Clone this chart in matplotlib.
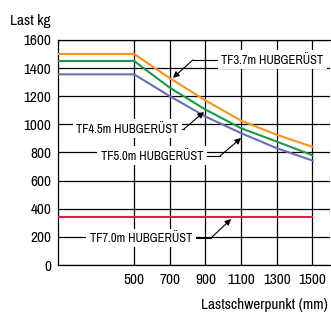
import matplotlib
matplotlib.use("Agg")
import matplotlib.pyplot as plt

x_pts = [75, 500, 700, 900, 1100, 1300, 1500]
tf37 = [1500, 1500, 1328, 1170, 1026, 925, 840]
tf45 = [1450, 1450, 1260, 1105, 972, 877, 780]
tf50 = [1355, 1355, 1200, 1055, 937, 830, 742]
tf70_x = [75, 1500]
tf70 = [340, 340]

yticks = [0, 200, 400, 600, 800, 1000, 1200, 1400, 1600]
xticks = [500, 700, 900, 1100, 1300, 1500]

FONT = ["Archivo Narrow", "DejaVu Sans"]
plt.rcParams['font.family'] = FONT

fig = plt.figure(figsize=(3.31, 3.14), dpi=100)
ax = fig.add_axes([0.176, 0.156, 0.822, 0.717])

ax.plot(x_pts, tf37, color="#f7941d", lw=1.5, zorder=3)
ax.plot(x_pts, tf45, color="#1a9a48", lw=1.5, zorder=3)
ax.plot(x_pts, tf50, color="#6670b8", lw=1.5, zorder=3)
ax.plot(tf70_x, tf70, color="#e0203a", lw=1.5, zorder=3)

ax.set_xlim(75, 1600)
ax.set_ylim(0, 1600)
ax.set_xticks(xticks)
ax.set_yticks(yticks)
ax.tick_params(length=0, labelsize=11, pad=5)
ax.tick_params(axis='x', pad=6)
ax.grid(True, color="black", lw=0.9)
for s in ["right"]:
    ax.spines[s].set_visible(False)
for s in ["top", "left", "bottom"]:
    ax.spines[s].set_linewidth(0.9)

def label(text, tx, ty, corner, tip):
    ax.text(tx, ty, text, fontsize=9, ha="center", va="center", zorder=5,
            bbox=dict(facecolor="white", edgecolor="none", pad=2.5))
    ax.plot([corner[2], corner[0]], [corner[1], corner[1]], color="black", lw=0.8, zorder=4)
    ax.annotate("", xy=tip, xytext=(corner[0], corner[1]), zorder=6,
                arrowprops=dict(arrowstyle="-|>", color="black", lw=0.8,
                                mutation_scale=9, shrinkA=0, shrinkB=0))

label("TF3.7m HUBGERÜST", 1276, 1458, (830, 1458, 1000), (718, 1330))
label("TF4.5m HUBGERÜST", 463, 967, (780, 967, 700), (892, 1088))
label("TF5.0m HUBGERÜST", 600, 775, (982, 775, 850), (1100, 903))
label("TF7.0m HUBGERÜST", 539, 192, (931, 192, 800), (1044, 327))

fig.text(10 / 331, 1 - 21 / 314, "Last kg", fontsize=11, ha="left", va="center")
fig.text(328 / 331, 1 - 305 / 314, "Lastschwerpunkt (mm)", fontsize=11, ha="right", va="center")

fig.savefig("out.png", dpi=100)
